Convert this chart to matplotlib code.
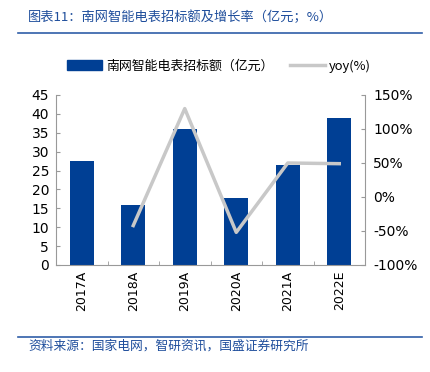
import matplotlib
matplotlib.use('agg')
import matplotlib.pyplot as plt
from matplotlib.lines import Line2D
import numpy as np

plt.rcParams['font.family'] = ['Noto Sans CJK SC', 'DejaVu Sans']

years = ['2017A', '2018A', '2019A', '2020A', '2021A', '2022E']
amount = [27.5, 16.0, 36.0, 17.8, 26.4, 39.0]
yoy_years = ['2018A', '2019A', '2020A', '2021A', '2022E']
yoy = [-42, 130, -52, 50, 49]

title = '图表11：南网智能电表招标额及增长率（亿元；%）'
source = '资料来源：国家电网，智研资讯，国盛证券研究所'
bar_label = '南网智能电表招标额（亿元）'
line_label = 'yoy(%)'

blue = '#003f94'
gray = '#c8c8c8'
spine_c = '#999999'
W, H = 430, 372

fig = plt.figure(figsize=(W / 100, H / 100), dpi=100)
ax = fig.add_axes([56 / W, (H - 265) / H, (365 - 56) / W, 170 / H])

x = np.arange(len(years))
ax.bar(x, amount, width=0.46, color=blue, zorder=2)
ax.set_xlim(-0.5, len(years) - 0.5)
ax.set_ylim(0, 45)
ax.set_yticks(range(0, 46, 5))
ax.set_xticks(x)
ax.set_xticklabels(years, rotation=90, fontsize=9, family='DejaVu Sans')
ax.set_xticks(np.arange(0.5, len(years) - 1, 1), minor=True)
ax.tick_params(axis='x', which='major', length=0, pad=4)
ax.tick_params(axis='x', which='minor', direction='in', length=3, color=spine_c)
ax.tick_params(axis='y', direction='in', length=3, color=spine_c, labelsize=10, pad=5)
for lab in ax.get_yticklabels():
    lab.set_family('DejaVu Sans')

ax2 = ax.twinx()
xi = [years.index(y) for y in yoy_years]
ax2.plot(xi, yoy, color=gray, lw=2.5, zorder=3)
ax2.set_ylim(-100, 150)
ax2.set_yticks(range(-100, 151, 50))
ax2.set_yticklabels(['%d%%' % v for v in range(-100, 151, 50)], family='DejaVu Sans')
ax2.tick_params(axis='y', direction='in', length=3, color=spine_c, labelsize=10, pad=6)

for a in (ax, ax2):
    a.spines['top'].set_visible(False)
    for s in ('left', 'right', 'bottom'):
        a.spines[s].set_color(spine_c)
ax.spines['right'].set_visible(False)
ax2.spines['left'].set_visible(False)
ax2.spines['bottom'].set_visible(False)

# legend
handles = [plt.Rectangle((0, 0), 1, 1, color=blue), Line2D([], [], color=gray, lw=2.5)]
fig.legend(handles, [bar_label, line_label], loc='center', bbox_to_anchor=(0.51, (H - 66) / H),
           ncol=2, frameon=False, fontsize=9.3, handlelength=2.7, handleheight=0.8,
           columnspacing=1.3, handletextpad=0.3)

# title and source
fig.text(28 / W, (H - 17) / H, title, fontsize=9.5, color='#1f4e9c', va='center', style='italic')
fig.add_artist(Line2D([18 / W, 422 / W], [(H - 33) / H] * 2, color='#2f5ea8', lw=1.2))
fig.add_artist(Line2D([18 / W, 422 / W], [(H - 337) / H] * 2, color='#2f5ea8', lw=1.2))
fig.text(28 / W, (H - 346) / H, source, fontsize=9.2, color='#1f4e9c', va='center', style='italic')

fig.savefig('out.png', dpi=100)
